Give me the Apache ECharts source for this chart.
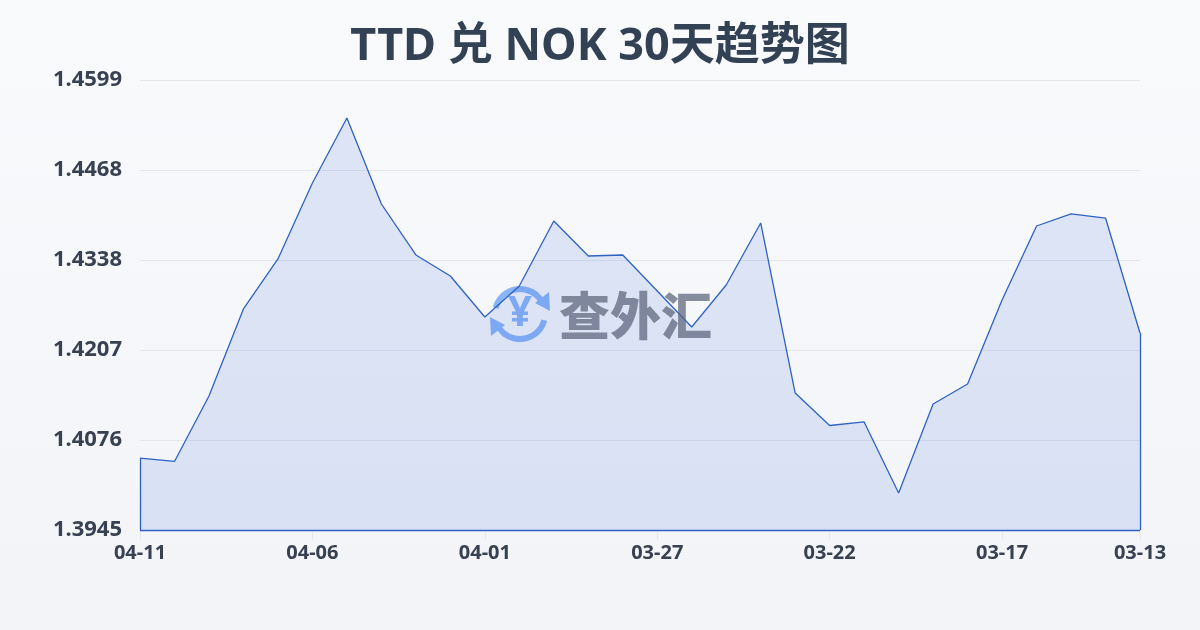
<!DOCTYPE html>
<html><head><meta charset="utf-8">
<style>html,body{margin:0;padding:0;background:#f8fafc}#c{width:1200px;height:630px}</style>
<script src="https://cdn.jsdelivr.net/npm/echarts@6/dist/echarts.min.js"></script>
</head><body><div id="c"></div>
<script>
const dates = ['04-11','04-10','04-09','04-08','04-07','04-06','04-05','04-04','04-03','04-02','04-01','03-31','03-30','03-29','03-28','03-27','03-26','03-25','03-24','03-23','03-22','03-21','03-20','03-19','03-18','03-17','03-16','03-15','03-14','03-13'];
const rates = [1.40496,1.40446,1.41397,1.42662,1.43389,1.44493,1.45438,1.44188,1.43447,1.43142,1.42546,1.42996,1.43941,1.43432,1.43447,1.42924,1.42400,1.43011,1.43912,1.41441,1.40969,1.41020,1.39988,1.41281,1.41572,1.42793,1.43868,1.44043,1.43984,1.42313];
const yTickLabels = ['1.3945','1.4076','1.4207','1.4338','1.4468','1.4599'];
const titleText = 'TTD 兑 NOK 30天趋势图';
const yMin = 1.3945, yMax = 1.4599;
const lineColor = '#2f62c4', textColor = '#374151';
const font = '"Noto Sans","Noto Sans CJK SC",sans-serif';
const last = dates.length - 1;
const chart = echarts.init(document.getElementById('c'), null, {renderer:'canvas'});
chart.setOption({
  animation:false,
  backgroundColor:{type:'linear',x:0,y:0,x2:0,y2:1,colorStops:[{offset:0,color:'#f8fafc'},{offset:1,color:'#f2f4f7'}]},
  title:{text:titleText,left:'center',top:20,textStyle:{fontFamily:font,fontSize:45,fontWeight:'bold',color:'#334155'}},
  grid:{left:140,right:60,top:80,bottom:100},
  xAxis:{type:'category',boundaryGap:false,data:dates,
    axisLine:{show:false},
    axisTick:{show:true,length:10,lineStyle:{color:'#e5e7eb'},interval:i=>i%5===0||i===last},
    axisLabel:{interval:i=>i%5===0||i===last,margin:13,fontFamily:font,fontSize:20,fontWeight:'bold',color:textColor},
    splitLine:{show:false}},
  yAxis:{type:'value',min:yMin,max:yMax,interval:(yMax-yMin)/5,
    axisLine:{show:false},axisTick:{show:false},
    axisLabel:{margin:18,fontFamily:font,fontSize:22,fontWeight:'bold',color:textColor,
      formatter:(v,i)=>yTickLabels[Math.round((v-yMin)/(yMax-yMin)*5)]},
    splitLine:{lineStyle:{color:'#e5e7eb',width:1}}},
  series:[{type:'line',data:rates,symbol:'none',smooth:false,
    lineStyle:{color:lineColor,width:1.3},
    areaStyle:{color:'rgba(37,90,215,0.18)',origin:'start'},
    markLine:{silent:true,symbol:'none',animation:false,label:{show:false},
      lineStyle:{color:lineColor,width:1.3,type:'solid'},
      data:[
        [{coord:[dates[0],rates[0]]},{coord:[dates[0],yMin]}],
        [{coord:[dates[0],yMin]},{coord:[dates[last],yMin]}],
        [{coord:[dates[last],yMin]},{coord:[dates[last],rates[last]]}]
      ]}}],
  graphic:[
    {type:'group',left:490,top:286,silent:true,z:100,children:[
      {type:'arc',shape:{cx:30,cy:29,r:25,startAngle:-2.9,endAngle:-0.45,clockwise:true},style:{stroke:'#8ab4f8',lineWidth:6,fill:'none'}},
      {type:'arc',shape:{cx:30,cy:29,r:25,startAngle:0.25,endAngle:2.7,clockwise:true},style:{stroke:'#8ab4f8',lineWidth:6,fill:'none'}},
      {type:'polygon',shape:{points:[[59,7],[60,26],[45,18]]},style:{fill:'#8ab4f8'}},
      {type:'polygon',shape:{points:[[1,51],[0,32],[15,40]]},style:{fill:'#8ab4f8'}},
      {type:'text',style:{text:'¥',x:30,y:29,align:'center',verticalAlign:'middle',fontSize:42,fontWeight:'bold',fontFamily:font,fill:'#8ab4f8'}}
    ]},
    {type:'text',left:559,top:290,silent:true,z:100,style:{text:'查外汇',fontSize:51,fontWeight:900,fontFamily:'"Noto Sans CJK SC"',fill:'rgba(90,100,120,0.72)'}}
  ]
});
</script></body></html>
